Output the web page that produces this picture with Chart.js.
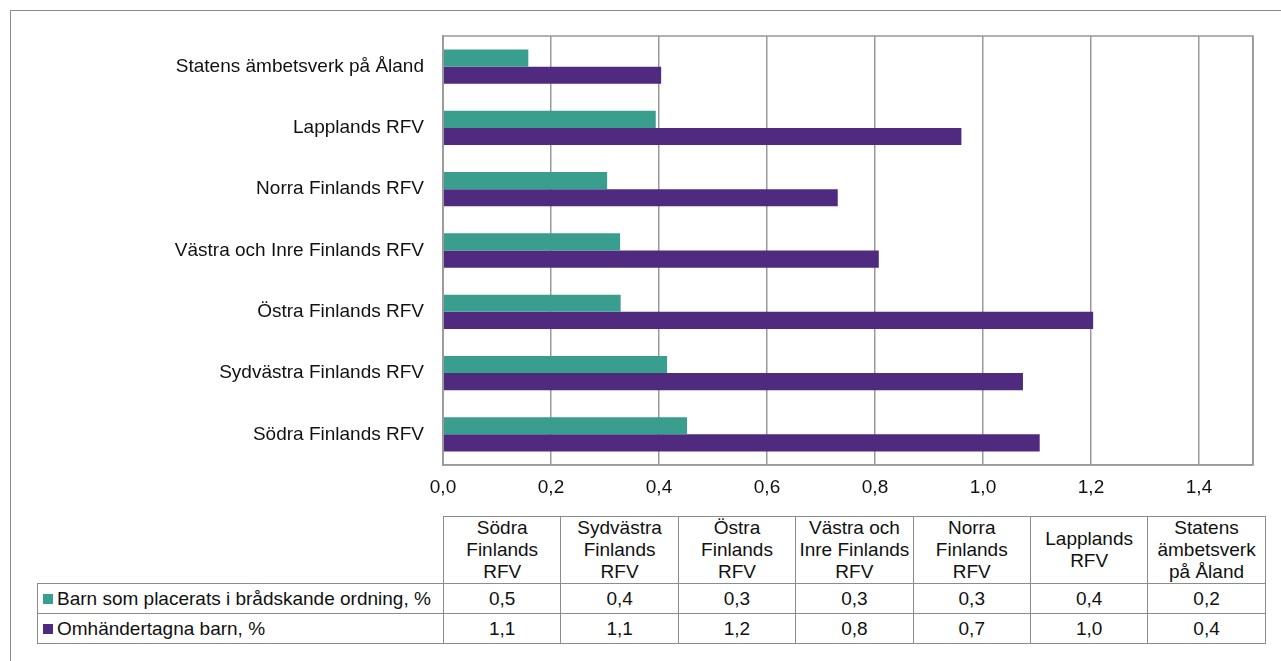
<!DOCTYPE html>
<html>
<head>
<meta charset="utf-8">
<script src="https://cdn.jsdelivr.net/npm/chart.js@4.4.0/dist/chart.umd.min.js"></script>
<style>
  body { margin: 0; background: #fff; font-family: "Liberation Sans", Arial, sans-serif; }
  #frame { position: absolute; left: 10px; top: 10px; width: 1300px; height: 700px;
           border-left: 1px solid #8c8c8c; border-top: 1px solid #8c8c8c; }
  #wrap { position: absolute; left: 0; top: 0; width: 1281px; height: 510px; }
  #tbl { position: absolute; left: 37px; top: 516px; border-collapse: collapse;
         table-layout: fixed; font-size: 19px; color: #111; }
  #tbl td { border: 1px solid #8c8c8c; text-align: center; padding: 0 1px; line-height: 22px; }
  #tbl tr.head td { height: 65px; }
  #tbl tr.row td { height: 29px; }
  #tbl td.blank { border-top: none; border-left: none; }
  #tbl td.leg { text-align: left; padding-left: 5px; white-space: nowrap; }
  .mk { display: inline-block; width: 10px; height: 10px; margin-right: 4px; vertical-align: 1px; }
</style>
</head>
<body>
<div id="frame"></div>
<div id="wrap"><canvas id="myChart" width="1281" height="510"></canvas></div>
<table id="tbl"></table>
<script>
// table order (bottom to top in the chart)
const categories = ['Södra Finlands RFV', 'Sydvästra Finlands RFV', 'Östra Finlands RFV',
  'Västra och Inre Finlands RFV', 'Norra Finlands RFV', 'Lapplands RFV', 'Statens ämbetsverk på Åland'];
const seriesNames = ['Barn som placerats i brådskande ordning, %', 'Omhändertagna barn, %'];
const placerade = [0.452, 0.415, 0.329, 0.328, 0.304, 0.394, 0.158];
const omhand = [1.105, 1.074, 1.204, 0.807, 0.731, 0.960, 0.404];
const colors = ['#3a9e8f', '#4f2a7e'];
const xTicks = [0, 0.2, 0.4, 0.6, 0.8, 1.0, 1.2, 1.4];

const fmt = v => v.toFixed(1).replace('.', ',');

const frameBox = {
  id: 'frameBox',
  afterDraw(chart) {
    const a = chart.chartArea, c = chart.ctx;
    c.save();
    c.strokeStyle = '#999';
    c.lineWidth = 1.5;
    c.strokeRect(a.left, a.top, a.right - a.left, a.bottom - a.top);
    c.restore();
  }
};

const ctx = document.getElementById('myChart').getContext('2d');
new Chart(ctx, {
  type: 'bar',
  data: {
    labels: categories.slice().reverse(),
    datasets: [
      { label: seriesNames[0], data: placerade.slice().reverse(), backgroundColor: colors[0] },
      { label: seriesNames[1], data: omhand.slice().reverse(), backgroundColor: colors[1] }
    ]
  },
  options: {
    indexAxis: 'y',
    responsive: false,
    animation: false,
    layout: { padding: { top: 36, right: 28, left: 0, bottom: 0 } },
    datasets: { bar: { categoryPercentage: 0.56, barPercentage: 1.0 } },
    plugins: { legend: { display: false }, tooltip: { enabled: false } },
    scales: {
      x: {
        min: 0, max: 1.5,
        afterBuildTicks: s => { s.ticks = xTicks.concat([1.5]).map(v => ({ value: v })); },
        afterFit: s => { s.height = 45; },
        grid: { color: '#999', lineWidth: 1.5, drawTicks: false },
        border: { color: '#999', width: 1.5 },
        ticks: {
          padding: 11, color: '#111',
          font: { family: 'Liberation Sans', size: 19 },
          callback: v => (xTicks.includes(v) ? fmt(v) : '')
        }
      },
      y: {
        afterFit: s => { s.width = 443; },
        grid: { display: false, drawTicks: false },
        border: { color: '#999', width: 1.5 },
        ticks: { padding: 19, color: '#111', font: { family: 'Liberation Sans', size: 19 } }
      }
    }
  },
  plugins: [frameBox]
});

// data table below the chart
const tbl = document.getElementById('tbl');
let html = '<colgroup><col style="width:406px">' + categories.map(() => '<col style="width:117.4px">').join('') + '</colgroup>';
html += '<tr class="head"><td class="blank"></td>' + categories.map(c => '<td>' + c + '</td>').join('') + '</tr>';
[placerade, omhand].forEach((vals, i) => {
  html += '<tr class="row"><td class="leg"><span class="mk" style="background:' + colors[i] + '"></span>' + seriesNames[i] + '</td>' +
    vals.map(v => '<td>' + fmt(v) + '</td>').join('') + '</tr>';
});
tbl.innerHTML = html;
</script>
</body>
</html>
